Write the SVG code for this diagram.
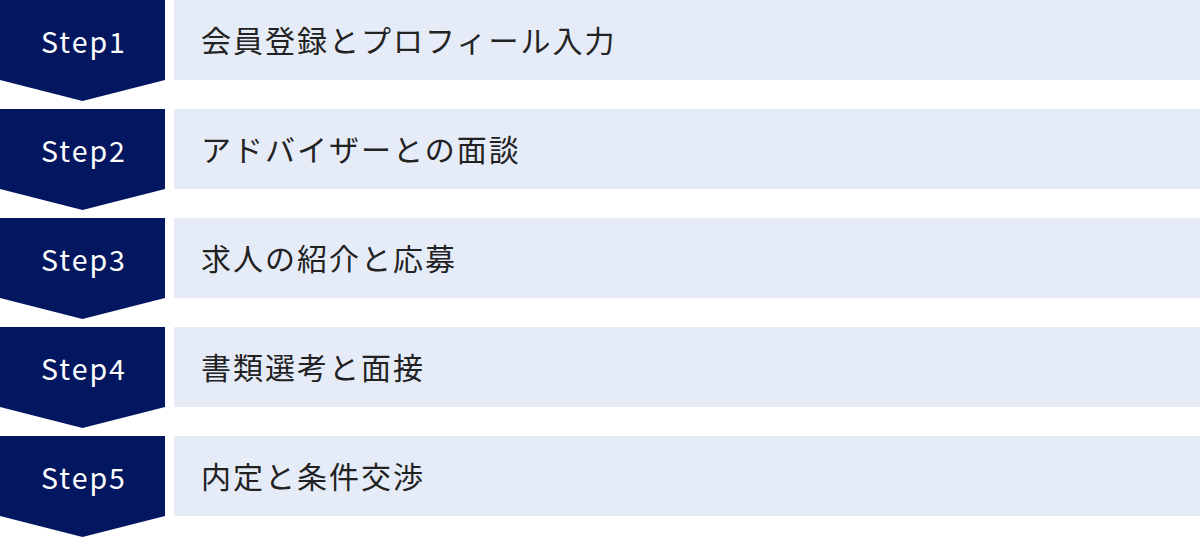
<svg xmlns="http://www.w3.org/2000/svg" width="1200" height="538" viewBox="0 0 1200 538">
<style>
.arrow{fill:#031760}
.box{fill:#E5ECF8}
.step{font-family:"Noto Sans CJK JP","Noto Sans",sans-serif;font-size:28.5px;fill:#ffffff;text-anchor:middle;letter-spacing:2px}
.label{font-family:"Noto Sans CJK JP","Noto Sans",sans-serif;font-size:30px;fill:#222222;letter-spacing:2px}
</style>
<rect width="1200" height="538" fill="#ffffff"/>
<g id="step1"><path class="arrow" d="M0 0H165V80L82.5 101L0 80Z"/><rect class="box" x="174" y="0" width="1026" height="80"/><text class="step" x="84" y="52.5">Step1</text><text class="label" x="201" y="52">会員登録とプロフィール入力</text></g>
<g id="step2"><path class="arrow" d="M0 109H165V189L82.5 210L0 189Z"/><rect class="box" x="174" y="109" width="1026" height="80"/><text class="step" x="84" y="161.5">Step2</text><text class="label" x="201" y="161">アドバイザーとの面談</text></g>
<g id="step3"><path class="arrow" d="M0 218H165V298L82.5 319L0 298Z"/><rect class="box" x="174" y="218" width="1026" height="80"/><text class="step" x="84" y="270.5">Step3</text><text class="label" x="201" y="270">求人の紹介と応募</text></g>
<g id="step4"><path class="arrow" d="M0 327H165V407L82.5 428L0 407Z"/><rect class="box" x="174" y="327" width="1026" height="80"/><text class="step" x="84" y="379.5">Step4</text><text class="label" x="201" y="379">書類選考と面接</text></g>
<g id="step5"><path class="arrow" d="M0 436H165V516L82.5 537L0 516Z"/><rect class="box" x="174" y="436" width="1026" height="80"/><text class="step" x="84" y="488.5">Step5</text><text class="label" x="201" y="488">内定と条件交渉</text></g>
<g id="connectors"></g>
</svg>
